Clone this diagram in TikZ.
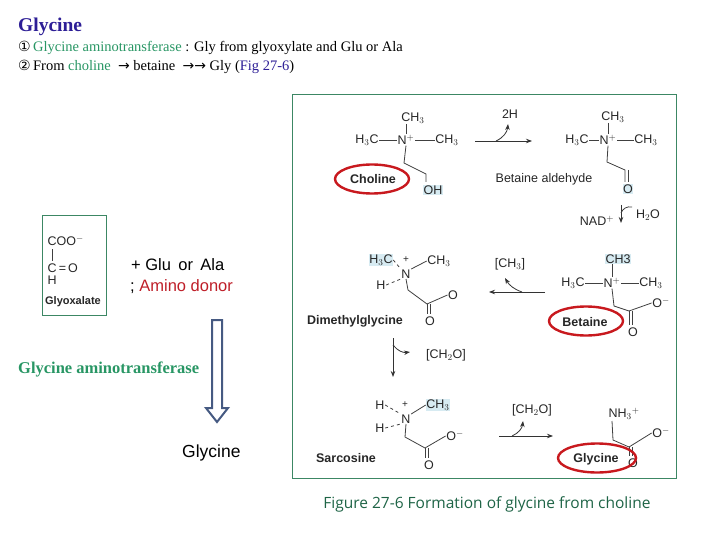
\documentclass[tikz,border=0pt]{standalone}
\usepackage{fontspec}
\setmainfont{Liberation Serif}
\setsansfont{Liberation Sans}
\newfontfamily\capfont{Open Sans}
\usetikzlibrary{arrows.meta,shapes.geometric}
\definecolor{tblue}{RGB}{45,30,150}
\definecolor{tgreen}{RGB}{40,150,100}
\definecolor{fgreen}{RGB}{60,135,100}
\definecolor{cgreen}{RGB}{30,100,70}
\definecolor{hl}{RGB}{215,235,242}
\definecolor{rred}{RGB}{200,25,30}
\definecolor{dred}{RGB}{190,30,40}
\definecolor{arr}{RGB}{70,90,130}
\tikzset{
 ch/.style={font=\sffamily\fontsize{12.5}{14}\selectfont, inner sep=0.5pt, text=black!85},
 hlt/.style={ch, fill=hl},
 pl/.style={font=\sffamily\fontsize{10}{11}\selectfont, inner sep=0pt, text=black!85},
 lab/.style={font=\sffamily\bfseries\fontsize{12.5}{14}\selectfont, inner sep=1pt, text=black!85},
 bond/.style={black!75, line width=0.8pt},
 rx/.style={black!80, line width=0.8pt, -{Stealth[length=6pt,width=4.5pt]}},
 ring/.style={draw=rred, line width=2.4pt, ellipse, minimum width=74pt, minimum height=29pt, inner sep=0pt},
 txt/.style={font=\fontsize{14.5}{16}\selectfont, anchor=west, inner sep=0pt}
}
\newcommand\djsym[1]{{\fontspec{DejaVu Sans}\fontsize{14}{15}\selectfont #1}}
\begin{document}
\begin{tikzpicture}[x=1pt,y=-1pt]
\useasboundingbox (0,0) rectangle (720,540);
% top text
\node[anchor=west, inner sep=0, text=tblue, font=\bfseries\fontsize{19.5}{21}\selectfont] (title) at (18,27) {Glycine};
\node[txt] (l1) at (18,48) {\djsym{①}\,\textcolor{tgreen}{Glycine aminotransferase} : Gly from glyoxylate and Glu or Ala};
\node[txt] (l2) at (18,67) {\djsym{②}\,From \textcolor{tgreen}{choline} \ \djsym{→}\ betaine \ \djsym{→→}\ Gly (\textcolor{tblue}{Fig 27-6})};
% frame
\draw[fgreen, line width=1pt] (292,95) rectangle (676,478);
% Choline
\node[ch] (c1) at (413,118) {CH$_3$};
\node[ch] (cl) at (367,140) {H$_3$C};
\node[ch] (cn) at (406,140) {N$^+$};
\node[ch] (cr) at (447,140) {CH$_3$};
\node[hlt] (coh) at (433,190) {OH};
\draw[bond] (c1.south -| cn) -- (cn.north);
\draw[bond] (cl.east) -- (cn.west);
\draw[bond] (cn.east) -- (cr.west);
\draw[bond] (cn.south) -- (404,163) -- (426,174) -- (426,182);
\node[lab] (chol) at (373,179) {Choline};
\node[ring] (cring) at (372,179) {};
% arrow 1
\coordinate (a1s) at (475,141); \coordinate (a1e) at (532,141);
\draw[rx] (a1s) -- (a1e);
\draw[rx] (496,141) to[bend right=30] (508,124);
\node[ch] (h2) at (510,114) {2H};
% Betaine aldehyde
\node[ch] (b1) at (613,117) {CH$_3$};
\node[ch] (bl) at (577,140) {H$_3$C};
\node[ch] (bn) at (608,140) {N$^+$};
\node[ch] (br) at (646,140) {CH$_3$};
\node[hlt] (bo) at (628,189) {O};
\draw[bond] (b1.south -| bn) -- (bn.north);
\draw[bond] (bl.east) -- (bn.west);
\draw[bond] (bn.east) -- (br.west);
\draw[bond] (bn.south) -- (607,162) -- (625,170) -- (625,182);
\draw[bond] (628,170) -- (628,182);
\node[lab, font=\sffamily\fontsize{12.5}{14}\selectfont] (bal) at (544,179) {Betaine aldehyde};
% NAD arrow
\draw[rx] (621,205) -- (621,223);
\draw[bond] (621,213) to[bend left=40] (632,207);
\node[ch] (nad) at (597,221) {NAD$^+$};
\node[ch] (h2o) at (648,215) {H$_2$O};
% Betaine
\node[hlt] (e1) at (618,259) {CH3};
\node[ch] (el) at (573,283) {H$_3$C};
\node[ch] (en) at (612,283) {N$^+$};
\node[ch] (er) at (651,283) {CH$_3$};
\node[ch] (eo1) at (661,303) {O$^-$};
\node[ch] (eo2) at (633,332) {O};
\draw[bond] (e1.south -| en) -- (en.north);
\draw[bond] (el.east) -- (en.west);
\draw[bond] (en.east) -- (er.west);
\draw[bond] (en.south) -- (614,306) -- (629,311) -- (eo1.west);
\draw[bond] (629,311) -- (629,325); \draw[bond] (632,311) -- (632,325);
\node[lab] (bet) at (585,322) {Betaine};
\node[ring] (bring) at (586,321) {};
% arrow 2
\draw[rx] (545,292) -- (489,292);
\draw[rx] (522,292) to[bend left=20] (505,278);
\node[ch] (m1) at (510,264) {[CH$_3$]};
% Dimethylglycine
\node[hlt] (dl) at (381,260) {H$_3$C};
\node[pl] (dp) at (406,260) {+};
\node[ch] (dn) at (406,274) {N};
\node[ch] (dr) at (439,261) {CH$_3$};
\node[ch] (dh) at (381,285) {H};
\node[ch] (do1) at (453,295) {O};
\node[ch] (do2) at (430,321) {O};
\draw[bond, dashed] (dl.east) -- (dn.north west);
\draw[bond, dashed] (dh.east) -- (dn.south west);
\draw[bond] (dn.north east) -- (dr.west);
\draw[bond] (dn.south) -- (408,290) -- (427,304) -- (do1.west);
\draw[bond] (427,304) -- (427,314); \draw[bond] (430,304) -- (430,314);
\node[lab] (dmg) at (355,321) {Dimethylglycine};
% arrow 3
\draw[rx] (393,338) -- (393,377);
\draw[rx] (393,345) to[bend right=30] (410,352);
\node[ch] (m2) at (446,355) {[CH$_2$O]};
% Sarcosine
\node[ch] (sh1) at (380,405) {H};
\node[ch] (sh2) at (380,428) {H};
\node[pl] (sp) at (405,405) {+};
\node[ch] (sn) at (406,419) {N};
\node[hlt] (sr) at (438,405) {CH$_3$};
\node[ch] (so1) at (455,436) {O$^-$};
\node[ch] (so2) at (429,465) {O};
\draw[bond, dashed] (sh1.east) -- (sn.north west);
\draw[bond, dashed] (sh2.east) -- (sn.south west);
\draw[bond] (sn.north east) -- (sr.west);
\draw[bond] (sn.south) -- (405,437) -- (425,448) -- (so1.west);
\draw[bond] (425,448) -- (425,458); \draw[bond] (428,448) -- (428,458);
\node[lab] (sar) at (346,458) {Sarcosine};
% arrow 4
\draw[rx] (499,436) -- (553,436);
\draw[rx] (512,436) to[bend right=30] (523,421);
\node[ch] (m3) at (532,410) {[CH$_2$O]};
% Glycine
\node[ch] (gn) at (624,414) {NH$_3$$^+$};
\node[ch] (go1) at (661,433) {O$^-$};
\node[ch] (go2) at (633,463) {O};
\draw[bond] (612,421) -- (613,440) -- (629,447) -- (go1.west);
\draw[bond] (629,447) -- (629,456); \draw[bond] (632,447) -- (632,456);
\node[lab] (gly) at (596,459) {Glycine};
\node[ring, minimum width=78pt] (gring) at (597,458) {};
% caption
\node[inner sep=0, text=cgreen, font=\capfont\fontsize{15.5}{17}\selectfont] (cap) at (487,504) {Figure 27-6 Formation of glycine from choline};
% Glyoxalate box
\draw[fgreen, line width=1pt] (42,216) rectangle (106,315);
\node[ch, anchor=west] (gx1) at (47,241) {COO$^-$};
\node[ch, anchor=west] (gx2) at (47,268) {C{\,}={\,}O};
\node[ch, anchor=west] (gx3) at (47,280) {H};
\draw[bond] (52,249) -- (52,261);
\node[lab, font=\sffamily\bfseries\fontsize{11}{13}\selectfont] (gxl) at (73,302) {Glyoxalate};
\node[anchor=west, inner sep=0, font=\sffamily\fontsize{16.5}{18}\selectfont] (glu) at (131,265) {+ Glu\, or\, Ala};
\node[anchor=west, inner sep=0, font=\sffamily\fontsize{16.5}{18}\selectfont] (don) at (130,287) {; \textcolor{dred}{Amino donor}};
% hollow arrow
\draw[arr, line width=2pt, line join=miter] (212,320) -- (222,320) -- (222,408) -- (228,408) -- (217,422) -- (206,408) -- (212,408) -- cycle;
\node[anchor=west, inner sep=0, text=tgreen, font=\bfseries\fontsize{16.5}{18}\selectfont] (gat) at (18,369) {Glycine aminotransferase};
\node[anchor=west, inner sep=0, font=\sffamily\fontsize{17.5}{19}\selectfont] (glyc) at (182,453) {Glycine};
\end{tikzpicture}
\end{document}
